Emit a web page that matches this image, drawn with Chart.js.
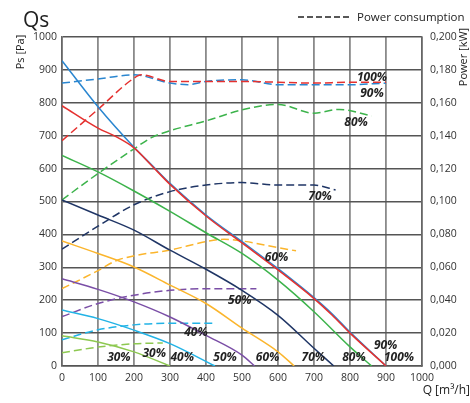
<!DOCTYPE html>
<html>
<head>
<meta charset="utf-8">
<script src="https://cdn.jsdelivr.net/npm/chart.js@4"></script>
<style>
html,body{margin:0;padding:0;background:#fff;}
#wrap{width:470px;height:403px;position:relative;}
</style>
</head>
<body>
<div id="wrap"><canvas id="c" width="470" height="403"></canvas></div>
<script>
// ---- Data ----
const xTicks = [0,100,200,300,400,500,600,700,800,900,1000];
const psTickLabels = ['0','100','200','300','400','500','600','700','800','900','1000'];
const powerTickLabels = ['0,000','0,020','0,040','0,060','0,080','0,100','0,120','0,140','0,160','0,180','0,200'];

const speeds = ['30%','40%','50%','60%','70%','80%','90%','100%'];
const colors = ['#8dc850','#22b3e6','#7a4ea6','#fbb52c','#1f3565','#3cb34b','#2a86d0','#e5312f'];

// Static pressure curves (Pa)
const q30 = [0,100,200,300];              const ps30 = [92,73,43,0];
const q40 = [0,100,200,300,425];          const ps40 = [170,144,109,68,0];
const q50 = [0,100,200,300,400,500,535];  const ps50 = [265,233,195,149,93,33,0];
const q60 = [0,100,200,300,400,500,600,645]; const ps60 = [380,342,301,246,190,115,43,0];
const q70 = [0,100,200,300,400,500,600,700,755]; const ps70 = [505,459,413,352,294,230,154,54,0];
const q80 = [0,100,200,300,400,500,600,700,800,860]; const ps80 = [640,590,532,470,405,342,261,165,58,0];
const q90 = [0,100,200,250,300,400,500,600,700,750,800,900]; const ps90 = [928,788,665,610,555,459,378,296,208,159,103,0];
const q100 = [0,100,150,200,250,300,400,500,600,700,750,800,900]; const ps100 = [791,723,697,663,608,552,456,374,292,205,155,100,0];

// Power consumption curves (kW)
const qp30 = [0,100,200,280];                const pw30 = [0.008,0.0115,0.0135,0.014];
const qp40 = [0,100,200,300,400,425];        const pw40 = [0.016,0.022,0.025,0.026,0.026,0.026];
const qp50 = [0,100,200,300,400,500,540];    const pw50 = [0.030,0.038,0.043,0.046,0.047,0.047,0.047];
const qp60 = [0,100,150,200,300,400,450,500,600,650]; const pw60 = [0.047,0.058,0.064,0.067,0.0705,0.0756,0.077,0.076,0.072,0.070];
const qp70 = [0,100,200,300,400,500,600,700,760]; const pw70 = [0.071,0.085,0.098,0.106,0.110,0.1115,0.110,0.110,0.107];
const qp80 = [0,100,200,250,300,400,500,600,700,770,860]; const pw80 = [0.101,0.117,0.132,0.139,0.143,0.149,0.1557,0.159,0.1537,0.156,0.152];
const qp90 = [0,100,200,300,350,400,500,600,700,800,900]; const pw90 = [0.172,0.1745,0.177,0.172,0.171,0.173,0.174,0.171,0.171,0.171,0.172];
const qp100 = [0,100,200,220,300,400,500,600,700,800,900]; const pw100 = [0.137,0.156,0.175,0.177,0.173,0.173,0.173,0.1725,0.172,0.1725,0.1725];

// Curve labels (text, Q, Ps)
const labelText = ['100%','90%','80%','70%','60%','50%','40%','30%','30%','40%','50%','60%','70%','80%','90%','100%'];
const labelQ    = [861,861,817,717,596,494,372,158,256,334,453,571,698,811,899,936];
const labelPs   = [877,829,741,515,330,200,101,27,39,27,27,27,27,27,62,27];

// ---- Build datasets ----
function pts(q, v){ return q.map((x,i)=>({x:x, y:v[i]})); }
const psQ = [q30,q40,q50,q60,q70,q80,q90,q100];
const psV = [ps30,ps40,ps50,ps60,ps70,ps80,ps90,ps100];
const pwQ = [qp30,qp40,qp50,qp60,qp70,qp80,qp90,qp100];
const pwV = [pw30,pw40,pw50,pw60,pw70,pw80,pw90,pw100];

const datasets = [];
for (let i = speeds.length-1; i >= 0; i--) {
  datasets.push({label:'Ps '+speeds[i], data:pts(psQ[i],psV[i]), yAxisID:'y',
    borderColor:colors[i], borderWidth:1.5, pointRadius:0, fill:false,
    cubicInterpolationMode:'monotone'});
}
for (let i = speeds.length-1; i >= 0; i--) {
  datasets.push({label:'P '+speeds[i], data:pts(pwQ[i],pwV[i]), yAxisID:'y1',
    borderColor:colors[i], borderWidth:1.5, borderDash:[8,4], pointRadius:0, fill:false,
    cubicInterpolationMode:'monotone'});
}

const FONT = "'Open Sans', 'DejaVu Sans', sans-serif";

const textPlugin = {
  id:'texts',
  afterDraw(chart){
    const ctx = chart.ctx, sx = chart.scales.x, sy = chart.scales.y;
    ctx.save();
    ctx.fillStyle = '#222';
    ctx.font = '21px ' + FONT;
    ctx.textAlign = 'left'; ctx.textBaseline = 'middle';
    ctx.fillText('Qs', 23, 21);
    ctx.strokeStyle = '#222'; ctx.lineWidth = 1.3; ctx.setLineDash([6,3]);
    ctx.beginPath(); ctx.moveTo(298, 17); ctx.lineTo(349, 17); ctx.stroke();
    ctx.setLineDash([]);
    ctx.font = '11.5px ' + FONT; ctx.fillStyle = '#222';
    ctx.textAlign = 'left';
    ctx.fillText('Power consumption', 357, 17.5);
    ctx.font = '11px ' + FONT;
    ctx.save(); ctx.translate(20.5, 52); ctx.rotate(-Math.PI/2);
    ctx.textAlign='center'; ctx.fillText('Ps [Pa]', 0, 0); ctx.restore();
    ctx.save(); ctx.translate(464, 57); ctx.rotate(-Math.PI/2);
    ctx.textAlign='center'; ctx.fillText('Power [kW]', 0, 0); ctx.restore();
    ctx.font = '12px ' + FONT; ctx.textAlign='right';
    ctx.fillText('Q [m\u00B3/h]', 470, 391);
    ctx.font = 'italic bold 12px ' + FONT; ctx.textAlign='center'; ctx.fillStyle='#222';
    for (let i = 0; i < labelText.length; i++) {
      ctx.fillText(labelText[i], sx.getPixelForValue(labelQ[i]), sy.getPixelForValue(labelPs[i]));
    }
    ctx.restore();
  }
};

new Chart(document.getElementById('c'), {
  type:'line',
  data:{datasets},
  options:{
    responsive:false, animation:false, devicePixelRatio:1,
    layout:{padding:{top:37, left:0, right:0, bottom:0}},
    plugins:{legend:{display:false}, title:{display:false}, tooltip:{enabled:false}},
    elements:{line:{tension:0.3}},
    scales:{
      x:{type:'linear', min:0, max:1000,
        afterBuildTicks(s){ s.ticks = xTicks.map(v=>({value:v})); },
        afterFit(s){ s.height = 37; },
        grid:{color:'#8a8a8a', lineWidth:1.8, drawTicks:false},
        border:{color:'#555', width:1.5},
        ticks:{font:{family:FONT, size:10.5}, color:'#333', padding:6, maxRotation:0,
          callback:(v)=>String(v)}},
      y:{type:'linear', position:'left', min:0, max:1000,
        afterBuildTicks(s){ s.ticks = psTickLabels.map((t,i)=>({value:i*100})); },
        afterFit(s){ s.width = 62; },
        grid:{color:'#555', lineWidth:1.5, drawTicks:false},
        border:{color:'#666', width:1.5},
        ticks:{font:{family:FONT, size:10.5}, color:'#333', padding:5,
          callback:(v,i)=>psTickLabels[i]}},
      y1:{type:'linear', position:'right', min:0, max:0.2,
        afterBuildTicks(s){ s.ticks = powerTickLabels.map((t,i)=>({value:i*0.02})); },
        afterFit(s){ s.width = 48; },
        grid:{display:false, drawTicks:false},
        border:{color:'#666', width:1.5},
        ticks:{font:{family:FONT, size:10.5}, color:'#333', padding:8,
          callback:(v,i)=>powerTickLabels[i]}}
    }
  },
  plugins:[textPlugin]
});
</script>
</body>
</html>
